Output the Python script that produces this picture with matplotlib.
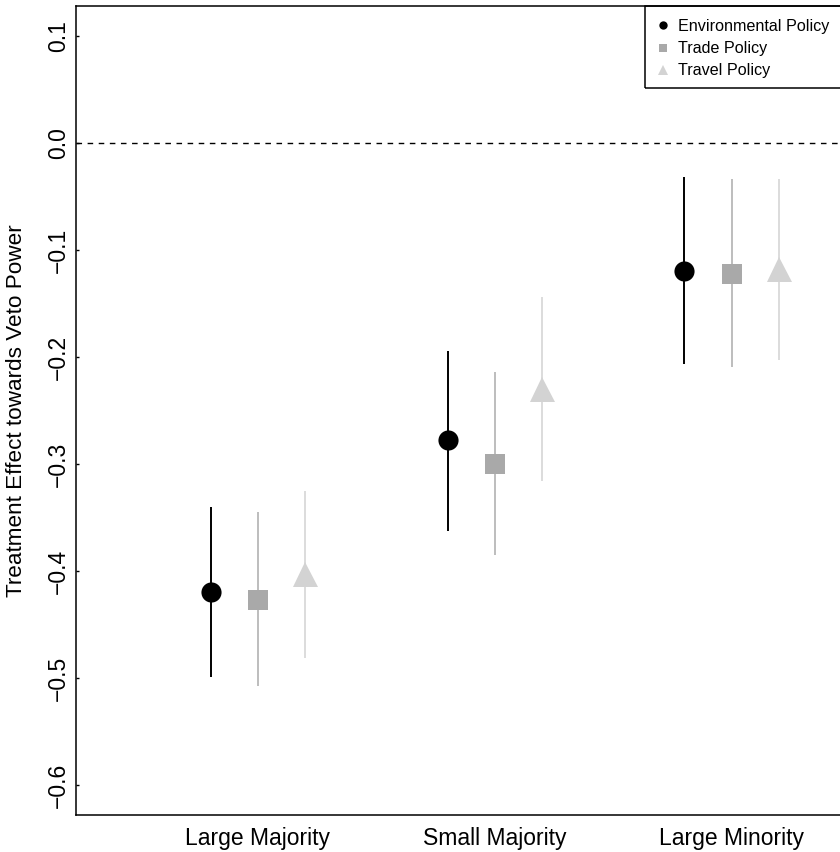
import numpy as np
import matplotlib
matplotlib.use('Agg')
import matplotlib.pyplot as plt
import matplotlib.transforms as mtransforms
from matplotlib.patches import Rectangle

plt.rcParams['font.family'] = ['Liberation Sans', 'DejaVu Sans']

groups = ["Large Majority", "Small Majority", "Large Minority"]
policies = ["Environmental Policy", "Trade Policy", "Travel Policy"]

env_est = [-0.420, -0.278, -0.120]
env_lo = [-0.499, -0.363, -0.207]
env_hi = [-0.340, -0.194, -0.032]

trade_est = [-0.427, -0.300, -0.122]
trade_lo = [-0.507, -0.385, -0.209]
trade_hi = [-0.345, -0.214, -0.034]

travel_est = [-0.403, -0.230, -0.118]
travel_lo = [-0.481, -0.316, -0.203]
travel_hi = [-0.325, -0.144, -0.034]

yticks = [0.1, 0.0, -0.1, -0.2, -0.3, -0.4, -0.5, -0.6]

W, H = 840, 852
fig = plt.figure(figsize=(W / 100, H / 100), dpi=100)
ax = fig.add_axes([76 / W, 37 / H, 798 / W, 809 / H])

pos = np.arange(1, len(groups) + 1)
series = [
    (env_est, env_lo, env_hi, -0.2, 'o', 14.5, 'black', 'black', 6),
    (trade_est, trade_lo, trade_hi, 0.0, 's', 15, '#a9a9a9', '#bdbdbd', 6),
    (travel_est, travel_lo, travel_hi, 0.2, '^', 18, '#d3d3d3', '#dcdcdc', 7),
]

handles = []
for (est, lo, hi, off, mk, ms, col, lcol, lms), name in zip(series, policies):
    x = pos + off
    ax.vlines(x, lo, hi, color=lcol, lw=1.4, zorder=2)
    ax.plot(x, est, linestyle='none', marker=mk, markersize=ms,
            color=col, markeredgewidth=0, zorder=3)
    h, = ax.plot([], [], linestyle='none', marker=mk, markersize=lms,
                 color=col, markeredgewidth=0, label=name)
    handles.append(h)

ax.axhline(0, color='black', lw=1, linestyle=(0, (4, 4)), zorder=1)

ax.set_xlim(0.232, 3.6)
ax.set_ylim(-0.628, 0.128)
ax.set_xticks(pos)
ax.set_xticklabels(groups, fontsize=16.5)
ax.set_yticks(yticks)
ax.set_yticklabels([f"{v:.1f}".replace('-', '\u2212') for v in yticks], fontsize=16.5)
plt.setp(ax.get_yticklabels(), rotation=90, va='center', ha='right')
ax.tick_params(axis='x', length=0, pad=9)
ax.tick_params(axis='y', length=2, width=1, direction='in', pad=4.5)
for sp in ax.spines.values():
    sp.set_linewidth(1.1)

ax.set_ylabel("Treatment Effect towards Veto Power", fontsize=16.2)
lab_tr = mtransforms.blended_transform_factory(fig.transFigure, ax.transAxes)
ax.yaxis.set_label_coords(27 / W, 0.5, transform=lab_tr)

leg = ax.legend(handles=handles, loc='upper left',
                bbox_to_anchor=(642 / W, 1 - 6 / H), bbox_transform=fig.transFigure,
                fontsize=11.6, frameon=False, borderaxespad=0,
                borderpad=0.8, labelspacing=0.45, handlelength=1.0,
                handletextpad=0.45)

# legend box runs off the right edge, as in the original
fig.patches.append(Rectangle((645 / W, 1 - 88 / H), 300 / W, 82 / H,
                             transform=fig.transFigure, fill=False,
                             edgecolor='black', lw=1.1, zorder=5))

fig.savefig('out.png', dpi=100)
